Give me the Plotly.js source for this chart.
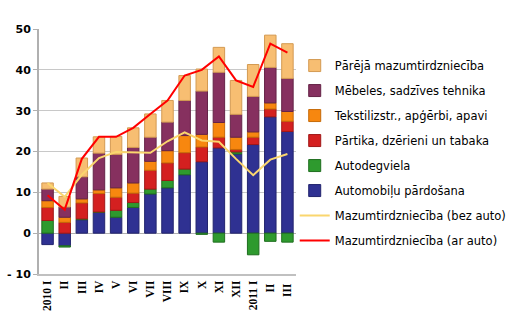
<!DOCTYPE html>
<html>
<head>
<meta charset="utf-8">
<script src="https://cdn.plot.ly/plotly-3.0.1.min.js"></script>
<style>html,body{margin:0;padding:0;background:#fff;}#chart{width:524px;height:321px;}</style>
</head>
<body>
<div id="chart"></div>
<script>
var categories = ["2010 I","II","III","IV","V","VI","VII","VIII","IX","X","XI","XII","2011 I","II ","III "];
var automobilu = [-2.8,-3.1,3.3,5.1,3.9,6.3,9.6,11.1,14.3,17.5,20.9,19.4,21.7,28.5,24.9];
var autodegviela = [3.1,-0.3,0.2,0.1,1.7,1.2,1.2,1.8,1.4,-0.3,-2.2,0.5,-5.3,-2.0,-2.2];
var partika = [3.2,2.65,3.9,4.5,3.2,2.3,4.6,4.3,4.0,3.6,2.6,0.6,1.8,1.9,2.5];
var tekstil = [1.65,1.25,1.0,0.9,2.3,2.5,2.2,3.0,4.2,3.1,3.6,3.0,1.3,1.5,2.4];
var mebeles = [2.85,2.5,5.4,9.0,8.2,8.7,5.9,7.0,8.6,10.6,12.3,5.6,8.7,8.7,8.1];
var pareja = [1.5,2.6,4.6,4.0,4.4,4.8,5.7,5.3,6.1,5.4,6.1,8.3,7.8,7.9,8.5];
var bezAuto = [12.3,8.9,14.3,18.4,19.9,19.8,19.7,22.5,24.7,22.7,22.4,18.2,14.2,18.0,19.4];
var arAuto = [9.3,5.75,18.2,23.6,23.6,25.8,29.2,32.5,38.6,40.0,43.3,37.4,35.8,46.4,44.2];

function bar(name, y, color, edge, rank){
  return {type:'bar', name:name, x:categories, y:y, legendrank:rank, legendgroup:name,
    marker:{color:color, line:{color:edge, width:1}}, hoverinfo:'none'};
}
var data = [
  bar('Automobiļu pārdošana', automobilu, '#2F3192', '#22246e', 6),
  bar('Autodegviela', autodegviela, '#2E9A2E', '#1f6e1f', 5),
  bar('Pārtika, dzērieni un tabaka', partika, '#D42020', '#a01818', 4),
  bar('Tekstilizstr., apģērbi, apavi', tekstil, '#F7870F', '#c66a08', 3),
  bar('Mēbeles, sadzīves tehnika', mebeles, '#86305F', '#652347', 2),
  bar('Pārējā mazumtirdzniecība', pareja, '#F7BE72', '#d39a52', 1),
  {type:'scatter', mode:'lines', name:'Mazumtirdzniecība (bez auto)', x:categories, y:bezAuto,
   line:{color:'#FAD66E', width:2}, legendrank:7, legendgroup:'bez', hoverinfo:'none'},
  {type:'scatter', mode:'lines', name:'Mazumtirdzniecība (ar auto)', x:categories, y:arAuto,
   line:{color:'#FF0000', width:2}, legendrank:8, legendgroup:'ar', hoverinfo:'none'}
];

var layout = {
  width:524, height:321,
  margin:{l:39, r:214, t:29, b:47},
  paper_bgcolor:'#fff', plot_bgcolor:'#fff',
  barmode:'relative', bargap:0.33,
  showlegend:true,
  legend:{x:0.995, y:0.91, xanchor:'left', yanchor:'top', traceorder:'grouped', tracegroupgap:6,
    font:{family:'DejaVu Sans, Verdana, sans-serif', size:11.5, color:'#000'}, bgcolor:'rgba(0,0,0,0)'},
  xaxis:{type:'category', tickangle:-90, showgrid:false, showline:true, linecolor:'#C0C0C0', linewidth:2,
    ticks:'', tickfont:{family:'Liberation Serif, Times New Roman, serif', size:11.5, color:'#000', weight:'bold'},
    fixedrange:true},
  yaxis:{range:[-10,50], dtick:10, showgrid:true, gridcolor:'#C8C8C8', gridwidth:1,
    zeroline:true, zerolinecolor:'#B0B0B0', zerolinewidth:1,
    showline:true, linecolor:'#B0B0B0', linewidth:2, ticks:'outside', ticklen:4, tickcolor:'#B0B0B0',
    tickfont:{family:'DejaVu Sans, Verdana, sans-serif', size:11, color:'#000', weight:'bold'},
    tickvals:[-10,0,10,20,30,40,50], ticktext:['- 10','0','10','20','30','40','50'],
    fixedrange:true}
};
Plotly.newPlot('chart', data, layout, {staticPlot:true, displayModeBar:false});
</script>
</body>
</html>
